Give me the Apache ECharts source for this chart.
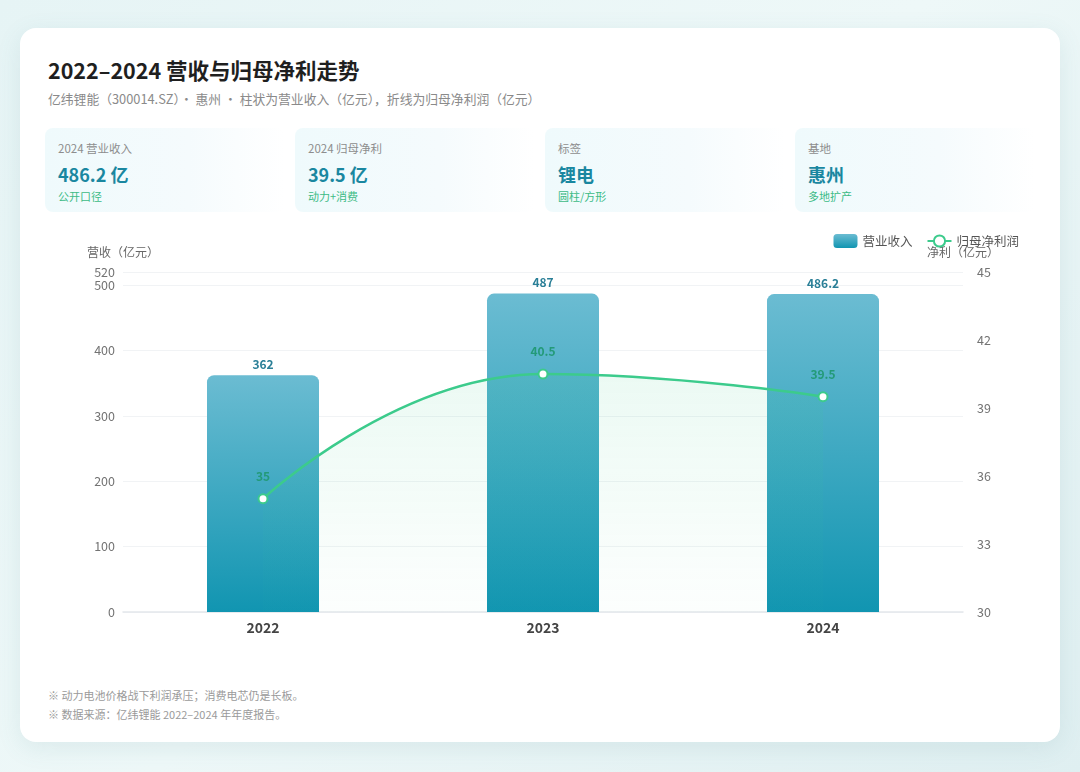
<!DOCTYPE html>
<html>
<head>
<meta charset="utf-8">
<title>2022–2024 营收与归母净利走势</title>
<script src="https://cdn.jsdelivr.net/npm/echarts@6/dist/echarts.min.js"></script>
<style>
    html, body {
        margin: 0;
        padding: 0;
        width: 1080px;
        height: 772px;
        overflow: hidden;
        font-family: "Noto Sans CJK SC", "Noto Sans", sans-serif;
        background: linear-gradient(135deg, #e6f4f5 0%, #eef8f8 50%, #dfeff1 100%);
    }
    .card {
        position: absolute;
        left: 20px;
        top: 28px;
        width: 1040px;
        height: 714px;
        background: #fff;
        border-radius: 16px;
        box-shadow: 0 6px 24px rgba(80, 140, 150, 0.12);
    }
    .title {
        position: absolute;
        left: 28px;
        top: 27px;
        font-size: 21.5px;
        font-weight: 700;
        color: #1f1f1f;
        line-height: 30px;
    }
    .sub {
        position: absolute;
        left: 28px;
        top: 62px;
        font-size: 12.8px;
        color: #8a8a8a;
        line-height: 18px;
    }
    .kpi {
        position: absolute;
        top: 100px;
        width: 240px;
        height: 84px;
        border-radius: 8px;
        background: linear-gradient(90deg, #effafc 0%, #f5fbfd 60%, #ffffff 100%);
    }
    .kpi .k {
        position: absolute;
        left: 13px;
        top: 12px;
        font-size: 11.5px;
        color: #8d8d8d;
    }
    .kpi .v {
        position: absolute;
        left: 13px;
        top: 33px;
        font-size: 18px;
        font-weight: 700;
        color: #1a87a0;
    }
    .kpi .s {
        position: absolute;
        left: 13px;
        top: 60px;
        font-size: 11px;
        color: #3dbb86;
    }
    .note {
        position: absolute;
        left: 28px;
        font-size: 11px;
        color: #9a9a9a;
    }
    #chart {
        position: absolute;
        left: 0;
        top: 0;
        width: 1080px;
        height: 772px;
    }
</style>
</head>
<body>
<div class="card" id="card">
    <div class="title">2022–2024 营收与归母净利走势</div>
    <div class="sub">亿纬锂能（300014.SZ）· 惠州 · 柱状为营业收入（亿元），折线为归母净利润（亿元）</div>
    <div class="note" style="top:659px">※ 动力电池价格战下利润承压；消费电芯仍是长板。</div>
    <div class="note" style="top:678px">※ 数据来源：亿纬锂能 2022–2024 年年度报告。</div>
</div>
<div id="chart"></div>

<script>
// 数据
var years = ['2022', '2023', '2024'];
var revenue = [362, 487, 486.2];
var netProfit = [35, 40.5, 39.5];

var kpiKeys = ['2024 营业收入', '2024 归母净利', '标签', '基地'];
var kpiValues = ['486.2 亿', '39.5 亿', '锂电', '惠州'];
var kpiSubs = ['公开口径', '动力+消费', '圆柱/方形', '多地扩产'];

// 指标卡
var card = document.getElementById('card');
for (var i = 0; i < kpiKeys.length; i++) {
    var box = document.createElement('div');
    box.className = 'kpi';
    box.style.left = (25 + i * 250) + 'px';
    box.innerHTML = '<div class="k">' + kpiKeys[i] + '</div>' +
        '<div class="v">' + kpiValues[i] + '</div>' +
        '<div class="s">' + kpiSubs[i] + '</div>';
    card.appendChild(box);
}

var myChart = echarts.init(document.getElementById('chart'));

var axisText = { color: '#737373', fontSize: 12.5, fontFamily: 'Noto Sans CJK SC' };

var option = {
    textStyle: { fontFamily: 'Noto Sans CJK SC' },
    legend: {
        right: 56,
        top: 229,
        itemWidth: 24,
        itemHeight: 14,
        itemGap: 14,
        textStyle: { color: '#555', fontSize: 12.5 },
        data: [
            { name: '营业收入', icon: 'roundRect' },
            { name: '归母净利润' }
        ]
    },
    grid: {
        left: 123,
        right: 117,
        top: 272,
        bottom: 160
    },
    xAxis: {
        type: 'category',
        data: years,
        axisLine: { lineStyle: { color: '#e4e7eb', width: 1.5 } },
        axisTick: { show: false },
        axisLabel: { color: '#444', fontSize: 14, fontWeight: 'bold', margin: 9 }
    },
    yAxis: [{
        type: 'value',
        name: '营收（亿元）',
        nameGap: 14,
        nameTextStyle: { color: '#666', fontSize: 12, align: 'center' },
        min: 0,
        max: 520,
        interval: 100,
        axisLine: { show: false },
        axisTick: { show: false },
        axisLabel: Object.assign({ margin: 8 }, axisText),
        splitLine: { lineStyle: { color: '#f1f3f5' } }
    }, {
        type: 'value',
        name: '净利（亿元）',
        nameGap: 14,
        nameTextStyle: { color: '#666', fontSize: 12, align: 'center' },
        min: 30,
        max: 45,
        interval: 3,
        axisLine: { show: false },
        axisTick: { show: false },
        axisLabel: Object.assign({ margin: 14 }, axisText),
        splitLine: { show: false }
    }],
    series: [{
        name: '营业收入',
        type: 'bar',
        barWidth: '40%',
        yAxisIndex: 0,
        itemStyle: {
            borderRadius: [7, 7, 0, 0],
            color: new echarts.graphic.LinearGradient(0, 0, 0, 1, [
                { offset: 0, color: '#6bbcd2' },
                { offset: 1, color: '#1195b1' }
            ])
        },
        label: {
            show: true,
            position: 'top',
            distance: 5,
            color: '#2a7f97',
            fontSize: 12,
            fontWeight: 'bold'
        },
        data: revenue
    }, {
        name: '归母净利润',
        type: 'line',
        yAxisIndex: 1,
        smooth: 0.5,
        symbol: 'emptyCircle',
        symbolSize: 9,
        lineStyle: { color: '#3ccb8c', width: 2.5 },
        itemStyle: { color: '#3ccb8c', borderColor: '#e9fbf2', borderWidth: 2 },
        areaStyle: {
            color: new echarts.graphic.LinearGradient(0, 0, 0, 1, [
                { offset: 0, color: 'rgba(60, 203, 140, 0.14)' },
                { offset: 1, color: 'rgba(60, 203, 140, 0.02)' }
            ])
        },
        label: {
            show: true,
            position: 'top',
            distance: 11,
            color: '#239a78',
            fontSize: 12,
            fontWeight: 'bold'
        },
        data: netProfit
    }]
};

myChart.setOption(option);
</script>
</body>
</html>
